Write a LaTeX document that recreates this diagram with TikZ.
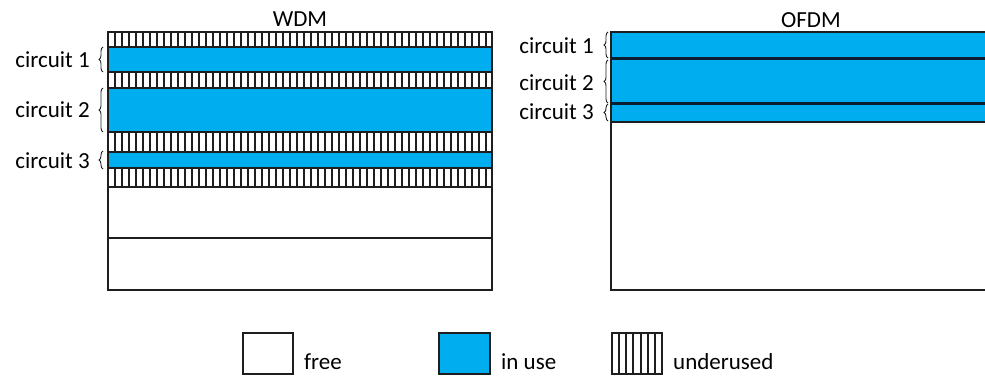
\documentclass[tikz,border=0pt]{standalone}
\usepackage{fontspec}
\setmainfont{Carlito}
\usetikzlibrary{decorations.pathreplacing}
\definecolor{inuse}{RGB}{0,174,239}
\definecolor{edge}{RGB}{30,30,30}
\definecolor{divider}{RGB}{10,30,50}
\tikzset{
  lbl/.style={font=\fontsize{23}{27}\selectfont, inner sep=0pt},
  band/.style={draw=edge, fill=inuse, line width=1.2pt},
  freecell/.style={draw=edge, fill=white, line width=1.4pt},
  hatch/.style={draw=edge, line width=1.2pt},
  cbrace/.style={decorate, decoration={brace, amplitude=4pt}, line width=0.9pt, edge},
}

\begin{document}
\begin{tikzpicture}[x=1pt,y=-1pt]
  \useasboundingbox (0,0) rectangle (985,377);
  % WDM
  \node[lbl, anchor=base] (wdm) at (300,27) {WDM};
  \foreach \ya/\yb in {32/47,72/88,132/152,168/187}{
    \draw[hatch, fill=white] (108,\ya) rectangle (492,\yb);
    \foreach \x in {115,122,...,488}
      \draw[hatch] (\x,\ya) -- (\x,\yb);
  }
  \draw[band] (108,47) rectangle (492,72);
  \draw[band] (108,88) rectangle (492,132);
  \draw[band] (108,152) rectangle (492,168);
  \draw[freecell] (108,187) rectangle (492,238);
  \draw[freecell] (108,238) rectangle (492,290);
  \node[lbl, anchor=base east] (w1) at (90,68) {circuit 1};
  \node[lbl, anchor=base east] (w2) at (90,118) {circuit 2};
  \node[lbl, anchor=base east] (w3) at (90,168) {circuit 3};
  \draw[cbrace] (103,72) -- (103,47);
  \draw[cbrace] (103,132) -- (103,88);
  \draw[cbrace] (103,169) -- (103,151);

  % OFDM
  \node[lbl, anchor=base] (ofdm) at (811,28) {OFDM};
  \draw[freecell] (611,32) rectangle (995,290);
  \draw[band] (611,32) rectangle (995,59);
  \draw[band] (611,59) rectangle (995,104);
  \draw[band] (611,104) rectangle (995,122);
  \draw[line width=3pt, divider] (611,59) -- (995,59);
  \draw[line width=3pt, divider] (611,104) -- (995,104);
  \node[lbl, anchor=base east] (o1) at (594,54) {circuit 1};
  \node[lbl, anchor=base east] (o2) at (594,91) {circuit 2};
  \node[lbl, anchor=base east] (o3) at (594,120) {circuit 3};
  \draw[cbrace] (608,58) -- (608,32);
  \draw[cbrace] (608,103) -- (608,60);
  \draw[cbrace] (608,121) -- (608,104);

  % legend
  \draw[freecell] (243,333) rectangle (293,374);
  \node[lbl, anchor=base west] (free) at (304,369) {free};
  \draw[band, line width=1.4pt] (439,333) rectangle (490,374);
  \node[lbl, anchor=base west] (use) at (501,369) {in use};
  \draw[freecell] (612,333) rectangle (662,374);
  \foreach \x in {619,626,633,641,648,655}
    \draw[hatch] (\x,333) -- (\x,374);
  \node[lbl, anchor=base west] (under) at (673,369) {underused};
\end{tikzpicture}
\end{document}
